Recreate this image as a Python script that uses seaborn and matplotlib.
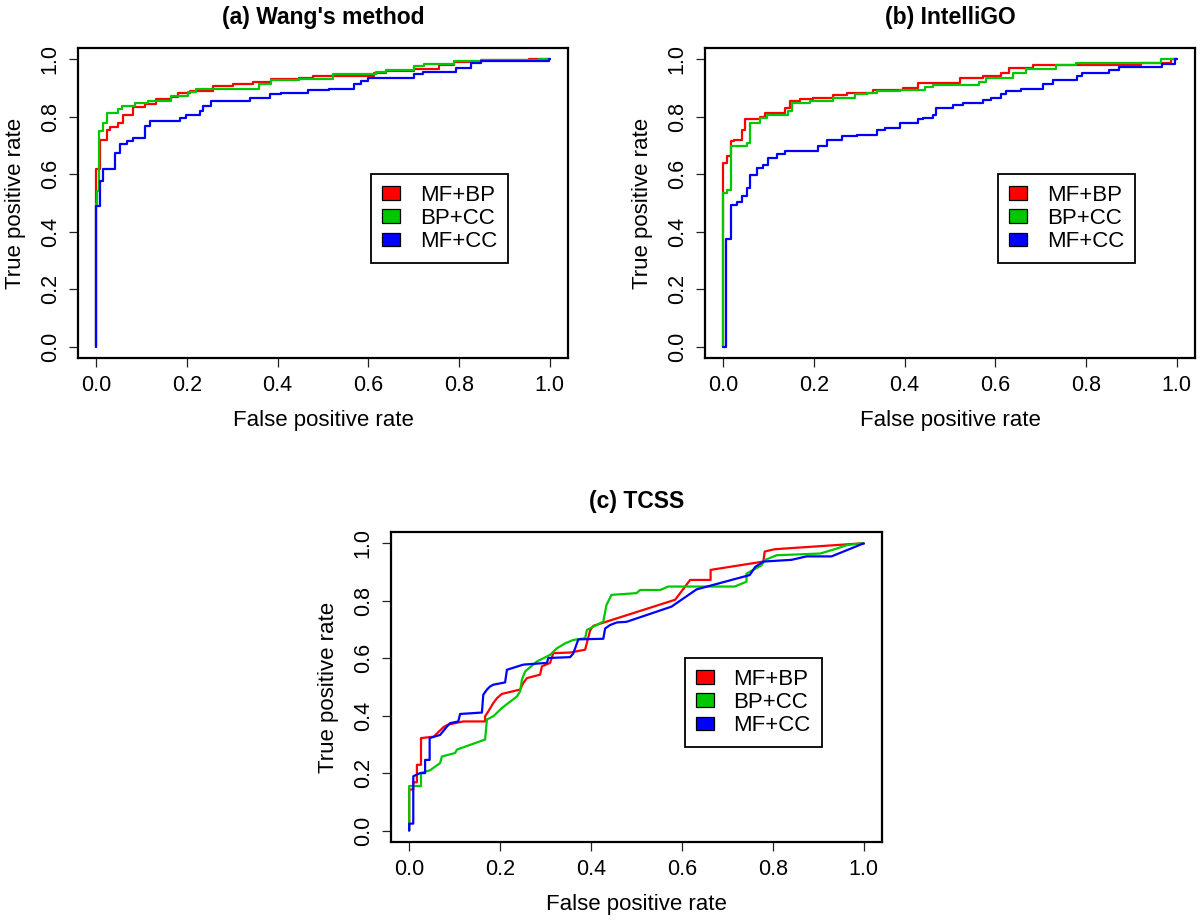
import numpy as np
import pandas as pd
import matplotlib
matplotlib.use("Agg")
import matplotlib.pyplot as plt
from matplotlib.patches import Patch
import seaborn as sns

# ---------------- data ----------------
methods = ["MF+BP", "BP+CC", "MF+CC"]
colors = ["#FF0000", "#00C800", "#0000FF"]
titles = ["(a) Wang's method", "(b) IntelliGO", "(c) TCSS"]
ticks = [0.0, 0.2, 0.4, 0.6, 0.8, 1.0]
tick_labels = ["0.0", "0.2", "0.4", "0.6", "0.8", "1.0"]

# (a) Wang's method  -- step points (fpr where tpr rises, new tpr)
a_mfbp_fpr = [0, 0, 0.009, 0.023, 0.031, 0.049, 0.060, 0.082, 0.108, 0.133, 0.166, 0.181, 0.207, 0.258,
              0.302, 0.346, 0.386, 0.448, 0.478, 0.613, 0.639, 0.701, 0.756, 0.789, 0.848, 0.955, 1.0]
a_mfbp_tpr = [0, 0.62, 0.72, 0.756, 0.765, 0.78, 0.805, 0.833, 0.845, 0.862, 0.871, 0.883, 0.89, 0.907,
              0.915, 0.921, 0.932, 0.936, 0.944, 0.953, 0.961, 0.967, 0.982, 0.99, 0.997, 1.0, 1.0]
a_bpcc_fpr = [0, 0, 0.002, 0.007, 0.014, 0.023, 0.049, 0.056, 0.086, 0.115, 0.166, 0.203, 0.221, 0.36,
              0.386, 0.448, 0.521, 0.617, 0.639, 0.701, 0.723, 0.789, 0.848, 0.976, 1.0]
a_bpcc_tpr = [0, 0.495, 0.543, 0.75, 0.779, 0.814, 0.826, 0.837, 0.849, 0.854, 0.872, 0.886, 0.898, 0.913,
              0.93, 0.933, 0.951, 0.957, 0.965, 0.976, 0.985, 0.994, 0.997, 1.0, 1.0]
a_mfcc_fpr = [0, 0, 0.009, 0.016, 0.042, 0.053, 0.068, 0.082, 0.108, 0.119, 0.185, 0.199, 0.229, 0.236,
              0.254, 0.338, 0.383, 0.408, 0.467, 0.514, 0.569, 0.584, 0.599, 0.701, 0.720, 0.793, 0.826,
              0.848, 0.998, 1.0]
a_mfcc_tpr = [0, 0.49, 0.576, 0.62, 0.675, 0.704, 0.715, 0.727, 0.768, 0.785, 0.797, 0.808, 0.82, 0.837,
              0.855, 0.866, 0.878, 0.884, 0.893, 0.898, 0.913, 0.925, 0.936, 0.948, 0.957, 0.971, 0.986,
              0.994, 1.0, 1.0]

# (b) IntelliGO -- step points
b_mfbp_fpr = [0, 0, 0.008, 0.017, 0.024, 0.041, 0.048, 0.081, 0.092, 0.136, 0.147, 0.169, 0.199, 0.243,
              0.272, 0.33, 0.396, 0.429, 0.521, 0.572, 0.613, 0.631, 0.682, 0.92, 0.986, 1.0]
b_mfbp_tpr = [0, 0.638, 0.663, 0.715, 0.721, 0.756, 0.791, 0.8, 0.814, 0.832, 0.855, 0.861, 0.867, 0.875,
              0.884, 0.893, 0.901, 0.918, 0.936, 0.944, 0.953, 0.971, 0.98, 0.989, 1.0, 1.0]
b_bpcc_fpr = [0, 0, 0.008, 0.017, 0.052, 0.059, 0.081, 0.096, 0.144, 0.151, 0.191, 0.243, 0.29, 0.316,
              0.338, 0.389, 0.444, 0.462, 0.565, 0.58, 0.638, 0.668, 0.733, 0.777, 0.964, 1.0]
b_bpcc_tpr = [0, 0.535, 0.547, 0.698, 0.71, 0.779, 0.797, 0.808, 0.82, 0.849, 0.855, 0.867, 0.878, 0.884,
              0.889, 0.895, 0.905, 0.91, 0.922, 0.936, 0.953, 0.967, 0.98, 0.986, 1.0, 1.0]
b_mfcc_fpr = [0, 0.007, 0.007, 0.017, 0.03, 0.041, 0.052, 0.059, 0.074, 0.088, 0.099, 0.118, 0.136, 0.21,
              0.228, 0.261, 0.294, 0.338, 0.356, 0.389, 0.429, 0.44, 0.462, 0.47, 0.506, 0.528, 0.572,
              0.59, 0.613, 0.623, 0.656, 0.704, 0.726, 0.781, 0.792, 0.851, 0.873, 0.968, 0.997, 1.0]
b_mfcc_tpr = [0, 0, 0.373, 0.494, 0.505, 0.523, 0.553, 0.599, 0.622, 0.634, 0.657, 0.669, 0.681, 0.698,
              0.721, 0.733, 0.738, 0.756, 0.762, 0.779, 0.791, 0.797, 0.808, 0.832, 0.84, 0.849, 0.858,
              0.867, 0.878, 0.889, 0.898, 0.913, 0.93, 0.944, 0.953, 0.965, 0.973, 0.985, 1.0, 1.0]

# (c) TCSS -- curve vertices
c_mfbp_fpr = [0, 0, 0.009, 0.009, 0.017, 0.017, 0.026, 0.026, 0.054, 0.076, 0.086, 0.119, 0.167, 0.167,
              0.174, 0.185, 0.193, 0.204, 0.244, 0.251, 0.259, 0.288, 0.292, 0.31, 0.317, 0.354, 0.387,
              0.398, 0.405, 0.585, 0.618, 0.663, 0.663, 0.779, 0.782, 0.804, 0.991, 1.0]
c_mfbp_tpr = [0, 0.143, 0.143, 0.168, 0.168, 0.229, 0.229, 0.322, 0.327, 0.361, 0.369, 0.38, 0.38, 0.398,
              0.415, 0.444, 0.461, 0.476, 0.491, 0.514, 0.531, 0.543, 0.572, 0.584, 0.618, 0.62, 0.63,
              0.697, 0.713, 0.804, 0.873, 0.873, 0.908, 0.937, 0.972, 0.98, 1.0, 1.0]
c_bpcc_fpr = [0, 0, 0.026, 0.026, 0.046, 0.068, 0.072, 0.101, 0.105, 0.167, 0.171, 0.185, 0.204, 0.218,
              0.237, 0.244, 0.248, 0.255, 0.281, 0.31, 0.325, 0.343, 0.361, 0.387, 0.391, 0.405, 0.427,
              0.434, 0.445, 0.5, 0.508, 0.552, 0.57, 0.716, 0.742, 0.742, 0.775, 0.782, 0.808, 0.904,
              0.94, 0.962, 0.991, 1.0]
c_bpcc_tpr = [0, 0.155, 0.155, 0.201, 0.21, 0.235, 0.258, 0.27, 0.282, 0.317, 0.387, 0.398, 0.427, 0.444,
              0.467, 0.485, 0.526, 0.554, 0.589, 0.612, 0.635, 0.652, 0.664, 0.67, 0.699, 0.71, 0.728,
              0.786, 0.821, 0.827, 0.838, 0.838, 0.85, 0.85, 0.867, 0.895, 0.924, 0.942, 0.959, 0.965,
              0.982, 0.994, 1.0, 1.0]
c_mfcc_fpr = [0, 0, 0.009, 0.009, 0.024, 0.035, 0.035, 0.045, 0.045, 0.068, 0.083, 0.09, 0.108, 0.112,
              0.16, 0.163, 0.171, 0.178, 0.185, 0.211, 0.215, 0.251, 0.303, 0.306, 0.354, 0.361, 0.372,
              0.427, 0.431, 0.442, 0.457, 0.478, 0.577, 0.632, 0.749, 0.761, 0.779, 0.841, 0.874, 0.929,
              0.999, 1.0]
c_mfcc_tpr = [0, 0.024, 0.024, 0.189, 0.2, 0.2, 0.246, 0.246, 0.322, 0.333, 0.362, 0.374, 0.38, 0.406,
              0.411, 0.473, 0.491, 0.502, 0.508, 0.516, 0.56, 0.578, 0.584, 0.601, 0.604, 0.617, 0.666,
              0.668, 0.704, 0.716, 0.725, 0.727, 0.78, 0.84, 0.89, 0.918, 0.937, 0.943, 0.955, 0.955,
              1.0, 1.0]

panels = [
    [(a_mfbp_fpr, a_mfbp_tpr), (a_bpcc_fpr, a_bpcc_tpr), (a_mfcc_fpr, a_mfcc_tpr)],
    [(b_mfbp_fpr, b_mfbp_tpr), (b_bpcc_fpr, b_bpcc_tpr), (b_mfcc_fpr, b_mfcc_tpr)],
    [(c_mfbp_fpr, c_mfbp_tpr), (c_bpcc_fpr, c_bpcc_tpr), (c_mfcc_fpr, c_mfcc_tpr)],
]
drawstyles = ["steps-post", "steps-post", "default"]

# ---------------- style ----------------
sns.set_style("white")
plt.rcParams["font.family"] = ["Liberation Sans", "DejaVu Sans"]
plt.rcParams["text.color"] = "black"
plt.rcParams["axes.labelcolor"] = "black"
plt.rcParams["xtick.color"] = "black"
plt.rcParams["ytick.color"] = "black"

fig = plt.figure(figsize=(12, 9.21), dpi=100)
W, H = 1200.0, 921.0
boxes = [(78, 48, 490, 310), (705, 48, 490, 310), (391, 532, 491, 310)]  # left, top, width, height (px)

palette = dict(zip(methods, colors))

for i, (box, curves) in enumerate(zip(boxes, panels)):
    l, t, w, h = box
    ax = fig.add_axes([l / W, 1 - (t + h) / H, w / W, h / H])
    frames = []
    for m, (fx, ty) in zip(methods, curves):
        frames.append(pd.DataFrame({"fpr": fx, "tpr": ty, "method": m}))
    df = pd.concat(frames, ignore_index=True)
    sns.lineplot(data=df, x="fpr", y="tpr", hue="method", hue_order=methods, palette=palette,
                 sort=False, estimator=None, legend=False, ax=ax, linewidth=1.6,
                 drawstyle=drawstyles[i])
    ax.set_xlim(-0.04, 1.04)
    ax.set_ylim(-0.04, 1.04)
    ax.set_xticks(ticks)
    ax.set_xticklabels(tick_labels)
    ax.set_yticks(ticks)
    ax.set_yticklabels(tick_labels, rotation=90, va="center")
    ax.tick_params(axis="both", direction="out", length=6.5, width=0.9, color="#222222",
                   labelcolor="black", labelsize=15.5, pad=6, left=True, bottom=True)
    for s in ax.spines.values():
        s.set_color("black")
        s.set_linewidth(1.6)
    ax.set_xlabel("False positive rate", fontsize=16, color="black")
    ax.set_ylabel("True positive rate", fontsize=16, color="black")
    ax.xaxis.set_label_coords(0.5, -0.203)
    ax.xaxis.label.set_va("center")
    ax.yaxis.set_label_coords(-0.128, 0.5)
    ax.yaxis.label.set_va("center")
    ax.text(0.5, 1.097, titles[i], transform=ax.transAxes, ha="center", va="center",
            fontsize=16.5, fontweight="bold", color="black")
    handles = [Patch(facecolor=c, edgecolor="black", linewidth=0.9, label=m)
               for m, c in zip(methods, colors)]
    leg = ax.legend(handles=handles, loc="center", bbox_to_anchor=(0.738, 0.45), fontsize=16,
                    frameon=True, fancybox=False, framealpha=1, edgecolor="black",
                    handlelength=0.8, handleheight=0.55, handletextpad=0.9,
                    labelspacing=0.1, borderpad=0.5, borderaxespad=0)
    for txt in leg.get_texts():
        txt.set_color("black")
    leg.get_frame().set_linewidth(1.3)

fig.savefig("out.png", dpi=100)
